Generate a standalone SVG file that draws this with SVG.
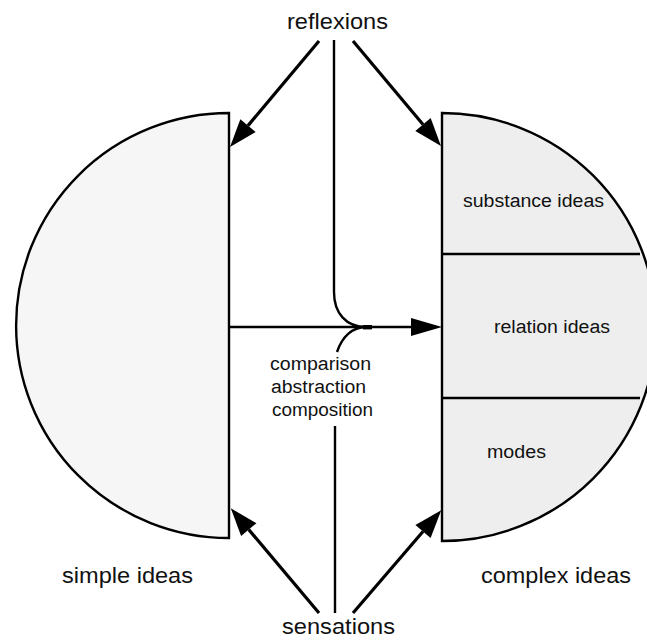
<svg xmlns="http://www.w3.org/2000/svg" width="647" height="640" viewBox="0 0 647 640">
  <style>
    .lbl { font-family: "Liberation Sans", Arial, sans-serif; fill: #111; }
    .big { font-size: 22px; }
    .small { font-size: 18px; }
    .shape { stroke: #000; stroke-width: 2.4; }
    .div { stroke: #000; stroke-width: 2.4; fill: none; }
    .arrow { stroke: #000; stroke-width: 3.2; fill: none; }
    .line { stroke: #000; stroke-width: 2.4; fill: none; }
  </style>
  <defs>
    <marker id="head" markerUnits="userSpaceOnUse" markerWidth="30" markerHeight="22" refX="0" refY="11" orient="auto" overflow="visible">
      <path d="M0,1 L28,11 L0,21 z" fill="#000"/>
    </marker>
    <marker id="headH" markerUnits="userSpaceOnUse" markerWidth="32" markerHeight="20" refX="0" refY="10" orient="auto" overflow="visible">
      <path d="M0,1 L31,10 L0,19 z" fill="#000"/>
    </marker>
  </defs>

  <!-- simple ideas: left half-disc -->
  <g id="simple-ideas">
    <path class="shape" fill="#f6f6f6" d="M229,113 A213,212.5 0 0 0 229,538 Z"/>
    <text class="lbl big" x="62" y="583" textLength="131" lengthAdjust="spacingAndGlyphs">simple ideas</text>
  </g>

  <!-- complex ideas: right half-disc split in three -->
  <g id="complex-ideas">
    <path class="shape" fill="#eeeeee" d="M442,113 A214,214 0 0 1 442,541 Z"/>
    <line class="div" x1="442" y1="254" x2="640" y2="254"/>
    <line class="div" x1="442" y1="398" x2="640" y2="398"/>
    <text class="lbl small" x="463" y="207" textLength="141" lengthAdjust="spacingAndGlyphs">substance ideas</text>
    <text class="lbl small" x="494" y="333" textLength="116" lengthAdjust="spacingAndGlyphs">relation ideas</text>
    <text class="lbl small" x="487" y="458" textLength="59" lengthAdjust="spacingAndGlyphs">modes</text>
    <text class="lbl big" x="481" y="583" textLength="150" lengthAdjust="spacingAndGlyphs">complex ideas</text>
  </g>

  <g id="reflexions">
    <text class="lbl big" x="287" y="29" textLength="101" lengthAdjust="spacingAndGlyphs">reflexions</text>
  </g>

  <g id="sensations">
    <text class="lbl big" x="282" y="634" textLength="113" lengthAdjust="spacingAndGlyphs">sensations</text>
  </g>

  <g id="operations">
    <text class="lbl small" x="270" y="370" textLength="101" lengthAdjust="spacingAndGlyphs">comparison</text>
    <text class="lbl small" x="271" y="393" textLength="95" lengthAdjust="spacingAndGlyphs">abstraction</text>
    <text class="lbl small" x="272" y="416" textLength="101" lengthAdjust="spacingAndGlyphs">composition</text>
  </g>

  <!-- connectors -->
  <g id="connectors">
    <line class="arrow" x1="319" y1="41" x2="248" y2="125.6" marker-end="url(#head)"/>
    <line class="arrow" x1="353" y1="41" x2="423" y2="124.5" marker-end="url(#head)"/>
    <line class="arrow" x1="319" y1="613" x2="248.8" y2="529.6" marker-end="url(#head)"/>
    <line class="arrow" x1="353" y1="613" x2="423" y2="531.5" marker-end="url(#head)"/>
    <line class="line" x1="229" y1="327" x2="411" y2="327" marker-end="url(#headH)"/>
    <path class="line" d="M334,40 V292 C334,313 346,327 366,327 H372"/>
    <path class="line" d="M337,352 C342,337 352,327 366,327"/>
    <rect x="363" y="325" width="9" height="4.4" fill="#000"/>
    <line class="line" x1="335" y1="426" x2="335" y2="613"/>
  </g>
</svg>
